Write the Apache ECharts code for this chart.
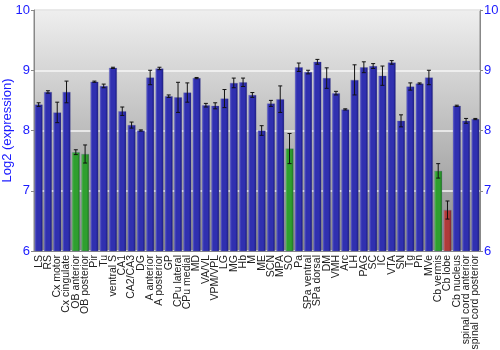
<!DOCTYPE html>
<html>
<head>
<meta charset="utf-8">
<script src="https://cdn.jsdelivr.net/npm/echarts@6/dist/echarts.min.js"></script>
<style>
  html, body { margin: 0; padding: 0; background: #ffffff; }
  #chart { width: 500px; height: 350px; }
</style>
</head>
<body>
<div id="chart"></div>
<script>
// Brain regions (x categories)
const regions = [
  'LS', 'RS', 'Cx motor', 'Cx cingulate', 'OB anterior', 'OB posterior', 'Pir', 'Tu',
  'ventral S', 'CA1', 'CA2/CA3', 'DG', 'A anterior', 'A posterior', 'GP', 'CPu lateral',
  'CPu medial', 'MD', 'VA/VL', 'VPM/VPL', 'LG', 'MG', 'Hb', 'M', 'ME', 'SCN', 'MPA', 'SO',
  'Pa', 'SPa ventral', 'SPa dorsal', 'DM', 'VMH', 'Arc', 'LH', 'PAG', 'SC', 'IC', 'VTA',
  'SN', 'Tg', 'Pn', 'MVe', 'Cb vermis', 'Cb lobe', 'Cb nucleus', 'spinal cord anterior',
  'spinal cord posterior'
];

// Mean log2 expression per region
const expression = [
  8.43, 8.64, 8.30, 8.64, 7.64, 7.61, 8.81, 8.74,
  9.04, 8.32, 8.09, 8.00, 8.88, 9.03, 8.57, 8.55,
  8.63, 8.87, 8.42, 8.41, 8.53, 8.79, 8.80, 8.59, 8.00, 8.45, 8.52, 7.70,
  9.05, 8.97, 9.14, 8.87, 8.62, 8.35, 8.84, 9.05, 9.07, 8.91, 9.13,
  8.16, 8.73, 8.78, 8.88, 7.33, 6.68, 8.41, 8.16,
  8.19
];

// Half-width of the error bar per region
const errorSize = [
  0.03, 0.02, 0.17, 0.18, 0.04, 0.15, 0.01, 0.03,
  0.01, 0.07, 0.05, 0.01, 0.12, 0.02, 0.02, 0.25,
  0.16, 0.01, 0.03, 0.05, 0.15, 0.08, 0.07, 0.04, 0.08, 0.05, 0.22, 0.25,
  0.07, 0.03, 0.04, 0.17, 0.03, 0.01, 0.25, 0.09, 0.04, 0.16, 0.03,
  0.10, 0.06, 0.01, 0.12, 0.12, 0.15, 0.01, 0.04,
  0.01
];

// Highlighted regions
const lowRegions = ['OB anterior', 'OB posterior', 'SO', 'Cb vermis'];
const lowestRegions = ['Cb lobe'];

// Y axis range and ticks
const yMin = 6, yMax = 10, yStep = 1;

function barGradient(light, mid, dark) {
  return {
    type: 'linear', x: 0, y: 0, x2: 1, y2: 0,
    colorStops: [
      { offset: 0, color: light },
      { offset: 0.25, color: mid },
      { offset: 0.7, color: mid },
      { offset: 1, color: dark }
    ]
  };
}
const blueFill = barGradient('#6a6ad2', '#3030b0', '#16167a');
const greenFill = barGradient('#6cc46c', '#2f9f2f', '#1a741a');
const redFill = barGradient('#d27070', '#b03a3a', '#7e2020');

const barData = expression.map((v, i) => {
  const name = regions[i];
  let fill = blueFill;
  if (lowRegions.includes(name)) fill = greenFill;
  if (lowestRegions.includes(name)) fill = redFill;
  return { value: v, itemStyle: { color: fill } };
});

const errorData = expression.map((v, i) => [i, v - errorSize[i], v + errorSize[i]]);

const axisTextColor = '#1a1aff';
const valueAxisCommon = {
  type: 'value',
  min: yMin,
  max: yMax,
  interval: yStep,
  axisLine: { show: true, lineStyle: { color: '#888888' } },
  axisTick: { show: true, length: 3, lineStyle: { color: '#888888' } },
  axisLabel: { color: axisTextColor, fontSize: 13, fontFamily: 'Liberation Sans, Arial, sans-serif', margin: 4 }
};

const chart = echarts.init(document.getElementById('chart'), null, { renderer: 'canvas' });
chart.setOption({
  animation: false,
  backgroundColor: '#ffffff',
  grid: {
    left: 34, right: 20, top: 10, bottom: 99,
    containLabel: false,
    outerBoundsMode: 'none',
    show: true,
    borderColor: '#888888',
    borderWidth: 1,
    backgroundColor: {
      type: 'linear', x: 0, y: 0, x2: 0, y2: 1,
      colorStops: [
        { offset: 0, color: '#efefef' },
        { offset: 1, color: '#8a8a8a' }
      ]
    }
  },
  xAxis: {
    type: 'category',
    data: regions,
    axisLine: { show: true, lineStyle: { color: '#888888' } },
    axisTick: { show: false },
    axisLabel: {
      interval: 0,
      rotate: 90,
      margin: 4,
      color: '#222222',
      fontSize: 10.5,
      fontFamily: 'Liberation Sans, Arial, sans-serif'
    }
  },
  yAxis: [
    Object.assign({}, valueAxisCommon, {
      position: 'left',
      name: 'Log2 (expression)',
      nameLocation: 'middle',
      nameGap: 20,
      nameMoveOverlap: false,
      nameTextStyle: { color: axisTextColor, fontSize: 13, fontFamily: 'Liberation Sans, Arial, sans-serif' },
      splitLine: {
        show: true,
        lineStyle: { color: '#f6f6f6', width: 1.5 }
      }
    }),
    Object.assign({}, valueAxisCommon, {
      position: 'right',
      splitLine: { show: false }
    })
  ],
  series: [
    {
      type: 'bar',
      data: barData,
      barCategoryGap: '14%',
      itemStyle: { borderColor: 'rgba(90,90,150,0.5)', borderWidth: 0.5 }
    },
    {
      type: 'custom',
      data: errorData,
      z: 5,
      renderItem: function (params, api) {
        const x = api.value(0);
        const lo = api.coord([x, api.value(1)]);
        const hi = api.coord([x, api.value(2)]);
        const half = 2;
        const style = { stroke: '#111111', lineWidth: 1 };
        return {
          type: 'group',
          children: [
            { type: 'line', shape: { x1: lo[0], y1: lo[1], x2: hi[0], y2: hi[1] }, style: style },
            { type: 'line', shape: { x1: lo[0] - half, y1: lo[1], x2: lo[0] + half, y2: lo[1] }, style: style },
            { type: 'line', shape: { x1: hi[0] - half, y1: hi[1], x2: hi[0] + half, y2: hi[1] }, style: style }
          ]
        };
      }
    }
  ]
});
</script>
</body>
</html>
